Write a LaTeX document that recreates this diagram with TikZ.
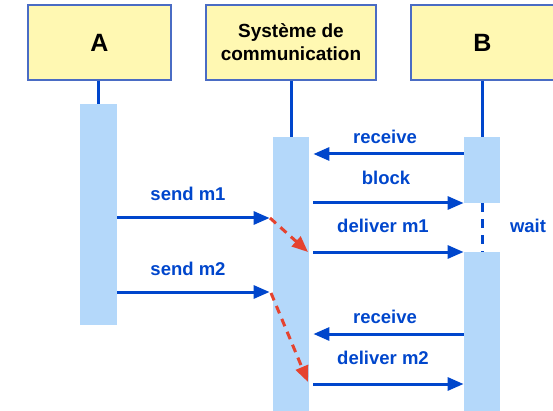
\documentclass[tikz,border=0pt]{standalone}
\usepackage{fontspec}
\setmainfont{Liberation Sans}
\usepackage{tikz}
\usetikzlibrary{arrows.meta,positioning,calc}
\definecolor{boxfill}{HTML}{FFF8B2}
\definecolor{boxline}{HTML}{4A6CC4}
\definecolor{barfill}{HTML}{B4D8FA}
\definecolor{msgblue}{HTML}{0046CC}
\definecolor{dashred}{HTML}{E5432F}

\begin{document}
\begin{tikzpicture}[x=1pt,y=-1pt,>={Triangle[length=16pt,width=13pt]},thick]
        \tikzstyle{actor} = [draw=boxline, line width=1.2pt, fill=boxfill, minimum width=143pt, minimum height=75pt, inner sep=0pt, align=center, font=\bfseries]
        \tikzstyle{bar} = [fill=barfill, inner sep=0pt, minimum width=36pt]
        \tikzstyle{life} = [draw=msgblue, line width=3pt]
        \tikzstyle{msg} = [->, draw=msgblue, line width=3pt]
        \tikzstyle{relay} = [->, draw=dashred, line width=3pt, dash pattern=on 8pt off 6pt]
        \tikzstyle{lbl} = [text=msgblue, anchor=base, inner sep=0pt, font=\bfseries\fontsize{18.5}{20}\selectfont]

        \useasboundingbox (0,0) rectangle (553,411);

        % Nodes
        \node[actor, font=\bfseries\fontsize{25}{28}\selectfont] (A) at (99.5,42.5) {A};
        \node[actor, minimum width=170pt, font=\bfseries\fontsize{19}{23}\selectfont] (sys) at (291,42.5) {Système de\\communication};
        \node[actor, font=\bfseries\fontsize{25}{28}\selectfont] (B) at (482.5,42.5) {B};

        \node[bar, minimum width=37pt, minimum height=221pt] (abar) at (98.5,214.5) {};
        \node[bar, minimum height=274pt] (cbar) at (291,274) {};
        \node[bar, minimum height=66pt] (bbar1) at (482,170) {};
        \node[bar, minimum height=159pt] (bbar2) at (482,331.5) {};

        % Lifelines
        \draw[life] (A.south -| abar.north) -- (abar.north);
        \draw[life] (sys.south -| cbar.north) -- (cbar.north);
        \draw[life] (B.south -| bbar1.north) -- (bbar1.north);
        \draw[life, dash pattern=on 9pt off 7pt] (bbar1.south) -- (bbar2.north);

        % Edges
        \draw[msg, shorten >=4pt] (bbar1.west |- 0,154) -- (cbar.east |- 0,154);
        \draw[msg, shorten <=4pt] (cbar.east |- 0,203) -- (bbar1.west |- 0,203);
        \draw[msg, shorten >=3pt] (abar.east |- 0,218) -- (cbar.west |- 0,218);
        \draw[msg, shorten <=4pt] (cbar.east |- 0,252) -- (bbar2.west |- 0,252);
        \draw[msg, shorten >=3pt] (abar.east |- 0,292) -- (cbar.west |- 0,292);
        \draw[msg, shorten >=4pt] (bbar2.west |- 0,334) -- (cbar.east |- 0,334);
        \draw[msg, shorten <=4pt] (cbar.east |- 0,384) -- (bbar2.west |- 0,384);

        % Relay inside the system
        \coordinate (in1) at (270,218);
        \coordinate (out1) at (308,252);
        \coordinate (in2) at (271,293);
        \coordinate (out2) at (308,382);
        \draw[relay] (in1) -- (out1);
        \draw[relay] (in2) -- (out2);

        % Labels
        \node[lbl] (lrcv1) at (385,144) {receive};
        \node[lbl] (lblock) at (386,184.5) {block};
        \node[lbl] (ldm1) at (383,233) {deliver m1};
        \node[lbl] (lwait) at (528,233) {wait};
        \node[lbl] (lsm1) at (188,201) {send m1};
        \node[lbl] (lsm2) at (188,275) {send m2};
        \node[lbl] (lrcv2) at (385,323) {receive};
        \node[lbl] (ldm2) at (383,364) {deliver m2};
\end{tikzpicture}
\end{document}
